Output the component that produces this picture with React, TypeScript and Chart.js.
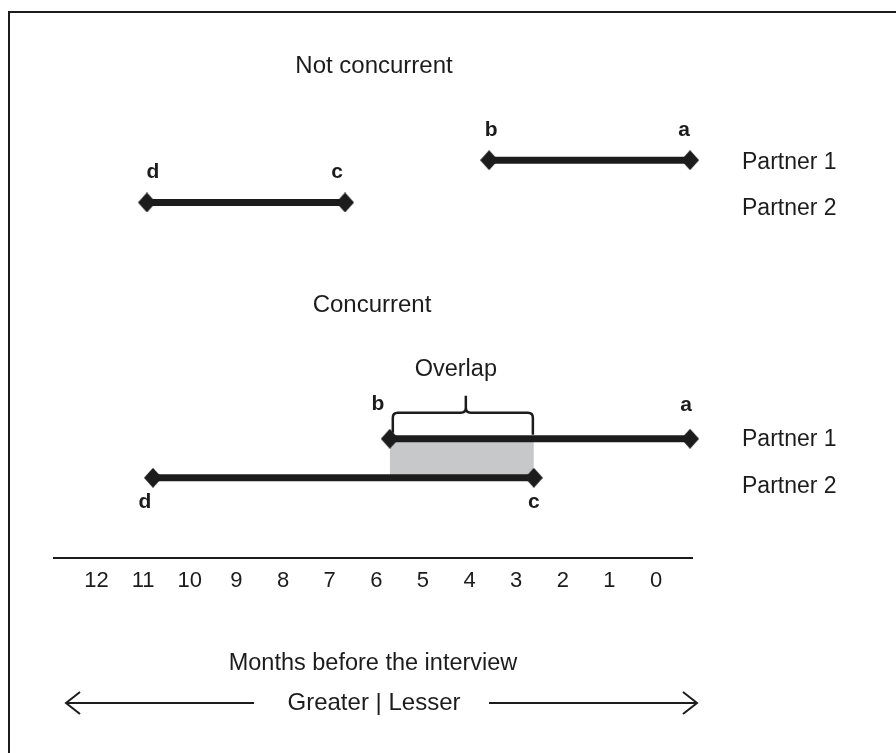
import React, { useEffect, useRef } from "react";
import { Chart, registerables } from "chart.js";

Chart.register(...registerables);

// ---- data (months before the interview; row levels) ----
const tickMonths = [12, 11, 10, 9, 8, 7, 6, 5, 4, 3, 2, 1, 0];
const rowLevels = { ncP1: 73.4, ncP2: 65.6, cP1: 22.0, cP2: 14.8 };
// Not concurrent
const ncPartner1 = [3.58, -0.73]; // b, a
const ncPartner2 = [10.92, 6.67]; // d, c
// Concurrent
const cPartner1 = [5.71, -0.73]; // b, a
const cPartner2 = [10.79, 2.62]; // d, c
const ncLetters1 = ["b", "a"];
const ncLetters2 = ["d", "c"];
const cLetters1 = ["b", "a"];
const cLetters2 = ["d", "c"];
const partnerLabels = ["Partner 1", "Partner 2"];

const FONT = '"Liberation Sans", Arial, Helvetica, sans-serif';
const INK = "#1c1c1c";

function makeDiamond(w: number, h: number, color: string) {
  const c = document.createElement("canvas");
  c.width = w;
  c.height = h;
  const ctx = c.getContext("2d")!;
  ctx.fillStyle = color;
  ctx.beginPath();
  ctx.moveTo(w / 2, 0);
  ctx.lineTo(w, h / 2);
  ctx.lineTo(w / 2, h);
  ctx.lineTo(0, h / 2);
  ctx.closePath();
  ctx.fill();
  return c;
}

export default function App() {
  const ref = useRef<HTMLCanvasElement | null>(null);

  useEffect(() => {
    document.body.style.margin = "0";
    const canvas = ref.current!;
    const diamond = makeDiamond(18, 20, INK);

    const seg = (xs: number[], y: number) => xs.map((x) => ({ x, y }));
    // overlap of the two concurrent partnerships (in months)
    const overlapStart = Math.min(cPartner1[0], cPartner2[0]); // earlier start (left)
    const overlapEnd = Math.max(cPartner1[1], cPartner2[1]); // later end (right)

    const lineDs = (xs: number[], y: number) => ({
      type: "line" as const,
      data: seg(xs, y),
      borderColor: INK,
      borderWidth: 7,
      pointStyle: diamond,
      pointRadius: 9,
      backgroundColor: INK,
      fill: false,
      order: 0,
      clip: false as any,
    });

    const annotations = {
      id: "annotations",
      beforeDraw(chart: any) {
        const ctx = chart.ctx;
        ctx.save();
        ctx.strokeStyle = INK;
        ctx.lineWidth = 2;
        ctx.beginPath();
        ctx.moveTo(9, 753);
        ctx.lineTo(9, 12);
        ctx.lineTo(896, 12);
        ctx.stroke();
        ctx.restore();
      },
      afterDraw(chart: any) {
        const ctx = chart.ctx;
        const xs = chart.scales.x;
        const ys = chart.scales.y;
        const area = chart.chartArea;
        const X = (v: number) => xs.getPixelForValue(v);
        const Y = (v: number) => ys.getPixelForValue(v);
        ctx.save();
        ctx.fillStyle = INK;
        ctx.textAlign = "center";
        ctx.textBaseline = "middle";

        // section titles
        ctx.font = `24px ${FONT}`;
        ctx.fillText("Not concurrent", 374, Y(rowLevels.ncP1) - 94);
        ctx.fillText("Concurrent", 372, Y(rowLevels.cP1) - 133);
        ctx.font = `23.5px ${FONT}`;
        ctx.fillText("Overlap", (X(overlapStart) + X(overlapEnd)) / 2 - 6, Y(rowLevels.cP1) - 69);

        // letters
        ctx.font = `bold 21px ${FONT}`;
        ctx.fillText(ncLetters1[0], X(ncPartner1[0]) + 2, Y(rowLevels.ncP1) - 30);
        ctx.fillText(ncLetters1[1], X(ncPartner1[1]) - 6, Y(rowLevels.ncP1) - 30);
        ctx.fillText(ncLetters2[0], X(ncPartner2[0]) + 6, Y(rowLevels.ncP2) - 30);
        ctx.fillText(ncLetters2[1], X(ncPartner2[1]) - 8, Y(rowLevels.ncP2) - 30);
        ctx.fillText(cLetters1[0], X(cPartner1[0]) - 12, Y(rowLevels.cP1) - 35);
        ctx.fillText(cLetters1[1], X(cPartner1[1]) - 4, Y(rowLevels.cP1) - 34);
        ctx.fillText(cLetters2[0], X(cPartner2[0]) - 8, Y(rowLevels.cP2) + 24);
        ctx.fillText(cLetters2[1], X(cPartner2[1]), Y(rowLevels.cP2) + 24);

        // partner labels
        ctx.font = `23px ${FONT}`;
        ctx.textAlign = "left";
        const lx = area.right + 50;
        ctx.fillText(partnerLabels[0], lx, Y(rowLevels.ncP1) + 2);
        ctx.fillText(partnerLabels[1], lx, Y(rowLevels.ncP2) + 6);
        ctx.fillText(partnerLabels[0], lx, Y(rowLevels.cP1) + 1);
        ctx.fillText(partnerLabels[1], lx, Y(rowLevels.cP2) + 9);

        // bracket over the overlap
        const bx0 = X(overlapStart) + 3;
        const bx1 = X(overlapEnd) - 1;
        const yl = Y(rowLevels.cP1);
        const top = yl - 26;
        const mid = (bx0 + bx1) / 2 + 3;
        ctx.lineWidth = 2.5;
        ctx.strokeStyle = INK;
        ctx.beginPath();
        ctx.moveTo(bx0, yl - 6);
        ctx.lineTo(bx0, top + 5);
        ctx.quadraticCurveTo(bx0, top, bx0 + 5, top);
        ctx.lineTo(mid - 5, top);
        ctx.quadraticCurveTo(mid, top, mid, top - 5);
        ctx.lineTo(mid, top - 17);
        ctx.moveTo(mid, top - 5);
        ctx.quadraticCurveTo(mid, top, mid + 5, top);
        ctx.lineTo(bx1 - 5, top);
        ctx.quadraticCurveTo(bx1, top, bx1, top + 5);
        ctx.lineTo(bx1, yl - 4);
        ctx.stroke();

        // axis title and direction arrows
        ctx.textAlign = "center";
        ctx.font = `23.5px ${FONT}`;
        ctx.fillText("Months before the interview", 373, area.bottom + 106);
        ctx.font = `24px ${FONT}`;
        ctx.fillText("Greater | Lesser", 374, area.bottom + 145);
        const ay = area.bottom + 145;
        ctx.lineWidth = 2;
        ctx.beginPath();
        ctx.moveTo(254, ay);
        ctx.lineTo(66, ay);
        ctx.moveTo(80, ay - 11);
        ctx.lineTo(66, ay);
        ctx.lineTo(80, ay + 11);
        ctx.moveTo(489, ay);
        ctx.lineTo(697, ay);
        ctx.moveTo(683, ay - 11);
        ctx.lineTo(697, ay);
        ctx.lineTo(683, ay + 11);
        ctx.stroke();
        ctx.restore();
      },
    };

    const chart = new Chart(canvas, {
      type: "line",
      data: {
        datasets: [
          lineDs(ncPartner1, rowLevels.ncP1),
          lineDs(ncPartner2, rowLevels.ncP2),
          lineDs(cPartner1, rowLevels.cP1),
          lineDs(cPartner2, rowLevels.cP2),
          {
            type: "line",
            data: seg([overlapStart, overlapEnd], rowLevels.cP1),
            borderWidth: 0,
            borderColor: "rgba(0,0,0,0)",
            pointRadius: 0,
            backgroundColor: "#c7c8ca",
            fill: "+1",
            order: 10,
          },
          {
            type: "line",
            data: seg([overlapStart, overlapEnd], rowLevels.cP2),
            borderWidth: 0,
            borderColor: "rgba(0,0,0,0)",
            pointRadius: 0,
            fill: false,
            order: 10,
          },
        ] as any,
      },
      options: {
        animation: false,
        responsive: false,
        events: [],
        layout: { padding: { left: 54, right: 204, top: 12, bottom: 0 } },
        plugins: { legend: { display: false }, tooltip: { enabled: false } },
        scales: {
          x: {
            type: "linear",
            reverse: true,
            min: -0.772,
            max: 12.913,
            afterBuildTicks: (s: any) => {
              s.ticks = tickMonths.map((v) => ({ value: v }));
            },
            afterFit: (s: any) => {
              s.height = 195;
            },
            grid: { display: false, drawTicks: false },
            border: { display: true, color: INK, width: 2 },
            ticks: {
              color: INK,
              font: { family: FONT, size: 22 },
              padding: 10,
              maxRotation: 0,
              autoSkip: false,
              callback: (v: any) => String(v),
            },
          },
          y: { type: "linear", min: 0, max: 100, display: false },
        },
      },
      plugins: [annotations],
    });
    return () => chart.destroy();
  }, []);

  return (
    <div style={{ width: 896, height: 753, background: "#fff" }}>
      <canvas ref={ref} width={896} height={753} style={{ display: "block" }} />
    </div>
  );
}
